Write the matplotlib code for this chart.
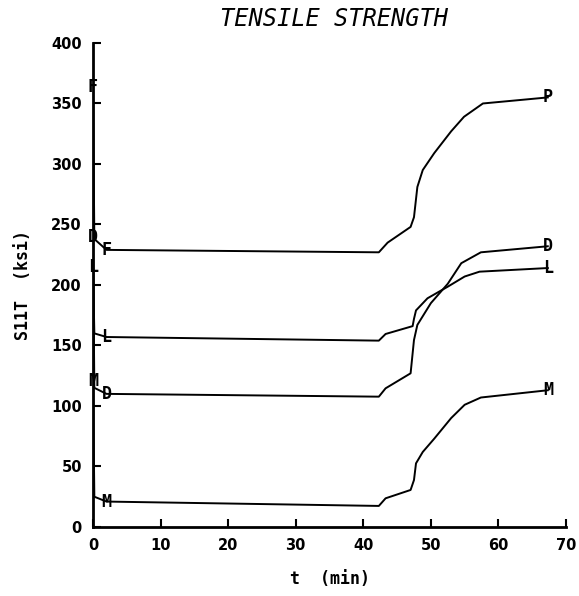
import matplotlib.pyplot as plt

# time (min) and strength (ksi), one pair of lists per curve
t_F = [0, 0.2, 2.0, 42.3, 43.6, 47.0, 47.5, 48.0, 48.8, 50.5, 53.0, 54.9, 57.7, 67.3]
s_F = [364, 238, 229, 227, 235, 248, 256, 281, 295, 309, 327, 339, 350, 355]

t_D = [0, 0.2, 2.0, 42.3, 43.3, 47.0, 47.5, 48.0, 50.0, 52.5, 54.5, 57.4, 67.3]
s_D = [240, 115, 110, 107.7, 114.6, 127, 154.5, 167, 185, 201, 218, 227, 232]

t_L = [0, 0.2, 2.0, 42.3, 43.3, 47.3, 47.5, 47.8, 49.5, 52.5, 55.0, 57.2, 67.3]
s_L = [215, 160, 157, 154, 159.5, 166, 172, 179, 189, 198.6, 207, 211, 214]

t_M = [0, 0.2, 2.0, 42.3, 43.3, 47.0, 47.5, 47.8, 48.8, 50.5, 53.0, 55.0, 57.4, 67.3]
s_M = [121, 25, 21, 17.4, 23.7, 30.6, 38.8, 52.6, 62, 73, 90, 101, 107, 113]

# letter symbols: (start, knee after the drop, end)
sym_F = ["F", "F", "P"]
sym_D = ["D", "D", "D"]
sym_L = ["L", "L", "L"]
sym_M = ["M", "M", "M"]

xticks = [0, 10, 20, 30, 40, 50, 60, 70]
yticks = [0, 50, 100, 150, 200, 250, 300, 350, 400]

mono = 'DejaVu Sans Mono'

fig = plt.figure(figsize=(5.79, 5.96), dpi=100)
ax = fig.add_axes([0.1606, 0.1158, 0.8170, 0.8121])

curves = [(t_F, s_F, sym_F), (t_D, s_D, sym_D), (t_L, s_L, sym_L), (t_M, s_M, sym_M)]
for t, s, sym in curves:
    ax.plot(t, s, color='black', lw=1.4, solid_joinstyle='round')
    # symbols at first point, the knee after the drop and the last point
    for idx, lab in zip([0, 2, len(t) - 1], sym):
        ax.text(t[idx], s[idx], lab, ha='center', va='center', fontsize=12,
                family=mono, fontweight='bold', color='black')

ax.set_xlim(0, 70)
ax.set_ylim(0, 400)
ax.set_xticks(xticks)
ax.set_yticks(yticks)
ax.tick_params(direction='in', length=6, width=1.5, pad=8, labelsize=10.5)
for lab in ax.get_xticklabels() + ax.get_yticklabels():
    lab.set_fontweight('bold')

for side in ['top', 'right']:
    ax.spines[side].set_visible(False)
for side in ['left', 'bottom']:
    ax.spines[side].set_linewidth(2)

ax.set_title("TENSILE STRENGTH", fontsize=17, style='italic', family=mono, pad=12, x=0.51)
ax.set_xlabel("t  (min)", fontsize=12, family=mono, fontweight='bold', labelpad=12)
ax.set_ylabel("S11T  (ksi)", fontsize=12, family=mono, fontweight='bold', labelpad=14)

plt.savefig("out.png", dpi=100)
